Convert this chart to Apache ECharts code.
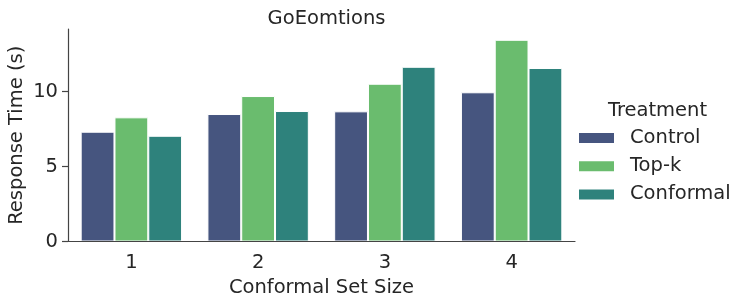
<!DOCTYPE html>
<html>
<head>
<meta charset="utf-8">
<script src="https://cdn.jsdelivr.net/npm/echarts@6/dist/echarts.min.js"></script>
<style>html,body{margin:0;padding:0;background:#fff}#c{width:747px;height:304px}</style>
</head>
<body>
<div id="c"></div>
<script>
const categories = ['1', '2', '3', '4'];
const seriesNames = ['Control', 'Top-k', 'Conformal'];
const control = [7.32, 8.50, 8.68, 9.95];
const topk = [8.28, 9.70, 10.52, 13.45];
const conformal = [7.05, 8.70, 11.65, 11.57];
const yTicks = [0, 5, 10];
const colors = ['#46557f', '#6abc6e', '#2e827c'];

const FONT = 'DejaVu Sans';
const TXT = '#262626';
const FS = 19.5;
const values = [control, topk, conformal];

const chart = echarts.init(document.getElementById('c'), null, {renderer: 'canvas'});
chart.setOption({
  animation: false,
  backgroundColor: '#fff',
  textStyle: {fontFamily: FONT, color: TXT},
  title: [
    {text: 'GoEomtions', left: 321.5, top: 4, textAlign: 'center',
     textStyle: {fontFamily: FONT, fontSize: FS, fontWeight: 'normal', color: TXT}},
    {text: 'Treatment', left: 652.5, top: 96, textAlign: 'center',
     textStyle: {fontFamily: FONT, fontSize: FS, fontWeight: 'normal', color: TXT}}
  ],
  legend: {
    orient: 'vertical', left: 577, top: 128, padding: 0, itemWidth: 37, itemHeight: 12, itemGap: 8.2,
    icon: 'rect', data: seriesNames,
    textStyle: {fontFamily: FONT, fontSize: FS, color: TXT, lineHeight: 20, padding: [0, 0, 0, 10]}
  },
  grid: {left: 68, right: 172, top: 29, bottom: 62.5, containLabel: false, outerBoundsMode: 'none'},
  xAxis: {
    type: 'category', data: categories, z: 5,
    name: 'Conformal Set Size', nameLocation: 'middle', nameGap: 36.5, nameMoveOverlap: false,
    nameTextStyle: {fontFamily: FONT, fontSize: FS, color: TXT},
    axisLine: {lineStyle: {color: '#444', width: 1.2}},
    axisTick: {alignWithLabel: true, length: 6, lineStyle: {color: '#444', width: 1.2}},
    axisLabel: {fontFamily: FONT, fontSize: FS, color: TXT, margin: 11}
  },
  yAxis: {
    type: 'value', min: 0, max: 14.17,
    name: 'Response Time (s)', nameLocation: 'middle', nameGap: 41, nameMoveOverlap: false,
    nameTextStyle: {fontFamily: FONT, fontSize: FS, color: TXT},
    axisLine: {show: true, lineStyle: {color: '#444', width: 1.2}},
    axisTick: {show: true, length: 6, customValues: yTicks, lineStyle: {color: '#444', width: 1.2}},
    axisLabel: {fontFamily: FONT, fontSize: FS, color: TXT, margin: 10, customValues: yTicks},
    splitLine: {show: false}
  },
  series: seriesNames.map((n, i) => ({
    name: n, type: 'bar', data: values[i],
    barCategoryGap: '20%', barGap: '0%',
    itemStyle: {color: colors[i], borderColor: '#ffffff', borderWidth: 1}
  }))
});
</script>
</body>
</html>
